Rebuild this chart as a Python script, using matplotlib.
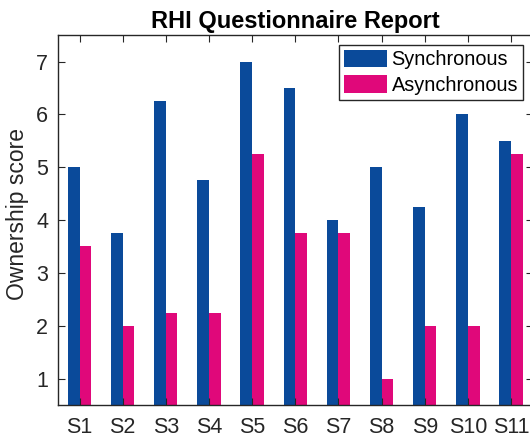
"""
RHI questionnaire ownership scores, grouped bars
"""

import numpy as np
import matplotlib
matplotlib.use('Agg')
import matplotlib.pyplot as plt

subjects = ['S1', 'S2', 'S3', 'S4', 'S5', 'S6', 'S7', 'S8', 'S9', 'S10', 'S11']
synchronous = [5, 3.75, 6.25, 4.75, 7, 6.5, 4, 5, 4.25, 6, 5.5]
asynchronous = [3.5, 2, 2.25, 2.25, 5.25, 3.75, 3.75, 1, 2, 2, 5.25]
yticks = [1, 2, 3, 4, 5, 6, 7]

plt.rcParams['font.family'] = ['Liberation Sans', 'DejaVu Sans']

fig = plt.figure(figsize=(5.3, 4.43), dpi=100)
ax = fig.add_axes([0.1094, 0.0858, 0.8955, 0.835])

x = np.arange(1, len(subjects) + 1)
w = 0.27
ax.bar(x - 0.135, synchronous, w, color='#0a4a9a', label='Synchronous')
ax.bar(x + 0.135, asynchronous, w, color='#e0087a', label='Asynchronous')

ax.set_xlim(0.5, 11.5)
ax.set_ylim(0.5, 7.5)
ax.set_xticks(x)
ax.set_xticklabels(subjects)
ax.set_yticks(yticks)

for s in ax.spines.values():
    s.set_color('#262626')
    s.set_linewidth(1.0)
ax.tick_params(direction='in', top=True, right=True, length=5, width=0.8,
               labelsize=15.5, colors='#262626')
ax.tick_params(axis='x', pad=9)
ax.tick_params(axis='y', pad=7)

ax.set_ylabel('Ownership score', fontsize=16.5, color='#262626')
ax.yaxis.set_label_coords(-0.062, 0.515)
ax.set_title('RHI Questionnaire Report', fontsize=17, fontweight='bold', pad=5)

leg = ax.legend(loc='upper right', bbox_to_anchor=(0.98, 0.973), fontsize=14.3,
                fancybox=False, framealpha=1, edgecolor='#262626',
                handlelength=2.15, handleheight=0.95, handletextpad=0.25,
                borderpad=0.25, labelspacing=0.3, borderaxespad=0)
leg.get_frame().set_linewidth(1.0)

plt.savefig('out.png', dpi=100)
